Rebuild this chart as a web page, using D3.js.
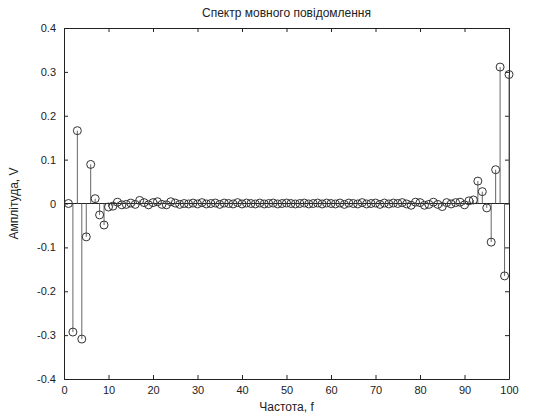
<!DOCTYPE html>
<html>
<head>
<meta charset="utf-8">
<script src="https://cdn.jsdelivr.net/npm/d3@7"></script>
<style>
  body { margin: 0; background: #fff; }
  svg { display: block; font-family: "Liberation Sans", Arial, sans-serif; }
  .axis text { font-size: 11px; fill: #222; }
  .axis path, .axis line { stroke: #222; }
</style>
</head>
<body>
<div id="chart"></div>
<script>
// Спектр мовного повідомлення: stem plot, 100 points
const title = "Спектр мовного повідомлення";
const xLabel = "Частота, f";
const yLabel = "Амплітуда, V";

const xTicks = [0, 10, 20, 30, 40, 50, 60, 70, 80, 90, 100];
const yTicks = [-0.4, -0.3, -0.2, -0.1, 0, 0.1, 0.2, 0.3, 0.4];
const yTickLabels = ["-0.4", "-0.3", "-0.2", "-0.1", "0", "0.1", "0.2", "0.3", "0.4"];

const amplitude = [
  0, -0.293, 0.166, -0.309, -0.076, 0.089, 0.011, -0.026, -0.049, -0.008,
  -0.006, 0.003, -0.003, -0.002, 0.001, -0.002, 0.007, 0.002, -0.003, 0.002,
  0.004, -0.002, -0.003, 0.004, 0.001, -0.002, 0.000, -0.001, 0.001, -0.001,
  0.002, -0.001, 0.000, 0.001, -0.002, 0.001, 0.000, -0.001, 0.002, -0.001,
  0.001, 0.000, -0.001, 0.001, -0.001, 0.000, 0.001, -0.001, 0.000, 0.001,
  0.000, -0.001, 0.000, 0.001, -0.001, 0.000, 0.001, -0.001, 0.001, 0.000,
  -0.001, 0.001, -0.002, 0.001, 0.000, -0.001, 0.002, -0.001, 0.000, 0.001,
  -0.002, 0.001, -0.001, 0.001, 0.000, 0.002, -0.001, -0.004, 0.003, 0.002,
  -0.004, -0.002, 0.003, -0.002, -0.007, 0.002, -0.001, 0.002, 0.003, -0.003,
  0.006, 0.008, 0.051, 0.027, -0.010, -0.088, 0.077, 0.311, -0.165, 0.294
];

let width = 537, height = 416;
let margin = { top: 28, right: 28, bottom: 37, left: 64 };

let svg = d3.select('#chart').append('svg')
  .attr('width', width)
  .attr('height', height);

let x = d3.scaleLinear().domain([0, 100]).range([margin.left, width - margin.right]);
let y = d3.scaleLinear().domain([-0.4, 0.4]).range([height - margin.bottom, margin.top]);

// matlab prints a plain hyphen, not the unicode minus d3 uses
let fmt = (d, i) => yTickLabels[i];

// axes, ticks pointing inwards like matlab
svg.append('g').attr('class', 'axis')
  .attr('transform', 'translate(0,' + y.range()[0] + ')')
  .call(d3.axisBottom(x).tickValues(xTicks).tickSizeInner(-4).tickSizeOuter(0).tickPadding(7).tickFormat(d3.format('d')));

svg.append('g').attr('class', 'axis')
  .attr('transform', 'translate(0,' + y.range()[1] + ')')
  .call(d3.axisTop(x).tickValues(xTicks).tickSizeInner(-4).tickSizeOuter(0).tickFormat(''));

svg.append('g').attr('class', 'axis')
  .attr('transform', 'translate(' + x.range()[0] + ',0)')
  .call(d3.axisLeft(y).tickValues(yTicks).tickSizeInner(-4).tickSizeOuter(0).tickPadding(8).tickFormat(fmt));

svg.append('g').attr('class', 'axis')
  .attr('transform', 'translate(' + x.range()[1] + ',0)')
  .call(d3.axisRight(y).tickValues(yTicks).tickSizeInner(-4).tickSizeOuter(0).tickFormat(''));

// baseline
svg.append('line')
  .attr('x1', x(0)).attr('x2', x(100))
  .attr('y1', y(0)).attr('y2', y(0))
  .attr('stroke', '#222');

let points = amplitude.map((v, i) => ({ f: i + 1, v: v }));

svg.append('g').selectAll('line.stem')
  .data(points)
  .enter().append('line')
  .attr('class', 'stem')
  .attr('x1', d => x(d.f)).attr('x2', d => x(d.f))
  .attr('y1', y(0)).attr('y2', d => y(d.v))
  .attr('stroke', '#666');

svg.append('g').selectAll('circle')
  .data(points)
  .enter().append('circle')
  .attr('cx', d => x(d.f))
  .attr('cy', d => y(d.v))
  .attr('r', 4)
  .attr('fill', 'none')
  .attr('stroke', '#333');

svg.append('text')
  .attr('x', (x.range()[0] + x.range()[1]) / 2)
  .attr('y', 17)
  .attr('text-anchor', 'middle')
  .style('font-size', '12px')
  .attr('fill', '#222')
  .text(title);

svg.append('text')
  .attr('x', (x.range()[0] + x.range()[1]) / 2)
  .attr('y', 411)
  .attr('text-anchor', 'middle')
  .style('font-size', '12px')
  .attr('fill', '#222')
  .text(xLabel);

svg.append('text')
  .attr('transform', 'translate(18,' + y(0) + ') rotate(-90)')
  .attr('text-anchor', 'middle')
  .style('font-size', '12px')
  .attr('fill', '#222')
  .text(yLabel);
</script>
</body>
</html>
